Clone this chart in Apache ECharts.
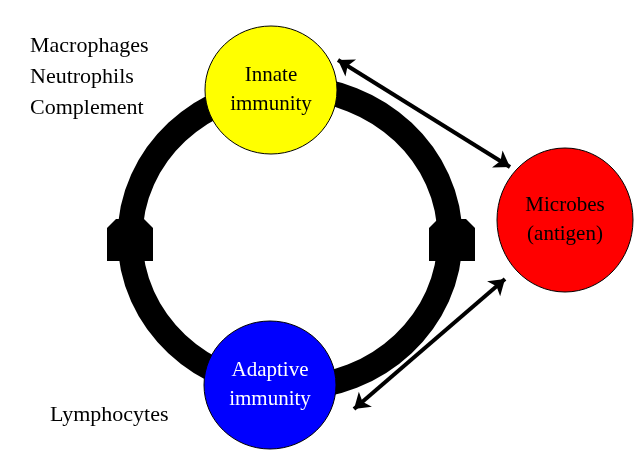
<!DOCTYPE html>
<html>
<head>
<meta charset="utf-8">
<script src="https://cdn.jsdelivr.net/npm/echarts@6/dist/echarts.min.js"></script>
<style>html,body{margin:0;padding:0;background:#fff}#main{width:641px;height:454px}</style>
</head>
<body>
<div id="main"></div>
<script>
// diagram nodes: [x, y, rx, ry, color, label, textColor]
const nodes = [
  [271, 90, 66, 64, '#ffff00', 'Innate\nimmunity', '#000'],
  [270, 385, 66, 64, '#0000ff', 'Adaptive\nimmunity', '#fff'],
  [565, 220, 68, 72, '#ff0000', 'Microbes\n(antigen)', '#000']
];
// ring: [cx, cy, rx, ry]
const ring = [[290, 238, 160, 150]];
// connectors on ring: [x, y]
const bumps = [[130, 240], [452, 240]];
// double arrows: [[x1,y1],[x2,y2]]
const arrows = [
  [[338, 60], [510, 167]],
  [[354, 409], [505, 279]]
];
// side labels: [x, y, text]
const notes = [
  [30, 46, 'Macrophages'],
  [30, 77, 'Neutrophils'],
  [30, 108, 'Complement'],
  [50, 415, 'Lymphocytes']
];

const font = '"Liberation Serif", "DejaVu Serif", serif';
const chart = echarts.init(document.getElementById('main'));

function ell(api, p) {
  const c = api.coord([p[0], p[1]]);
  const e = api.coord([p[0] + p[2], p[1] + p[3]]);
  return { cx: c[0], cy: c[1], rx: Math.abs(e[0] - c[0]), ry: Math.abs(e[1] - c[1]) };
}

chart.setOption({
  animation: false,
  grid: { left: 0, right: 0, top: 0, bottom: 0 },
  xAxis: { type: 'value', min: 0, max: 641, show: false },
  yAxis: { type: 'value', min: 0, max: 454, inverse: true, show: false },
  series: [
    {
      type: 'custom', data: ring, z: 1,
      renderItem: (params, api) => ({
        type: 'ellipse',
        shape: ell(api, [api.value(0), api.value(1), api.value(2), api.value(3)]),
        style: { fill: 'none', stroke: '#000', lineWidth: 25 }
      })
    },
    {
      type: 'custom', data: bumps, z: 2,
      renderItem: (params, api) => {
        const c = api.coord([api.value(0), api.value(1)]);
        const w = 23, h = 21, b = 9;
        return {
          type: 'polygon',
          shape: { points: [
            [c[0] - w + b, c[1] - h], [c[0] + w - b, c[1] - h], [c[0] + w, c[1] - h + b],
            [c[0] + w, c[1] + h], [c[0] - w, c[1] + h], [c[0] - w, c[1] - h + b]
          ] },
          style: { fill: '#000' }
        };
      }
    },
    {
      type: 'lines', coordinateSystem: 'cartesian2d', z: 3,
      symbol: ['arrow', 'arrow'], symbolSize: 15,
      lineStyle: { color: '#000', width: 4, opacity: 1 },
      data: arrows.map(a => ({ coords: a }))
    },
    {
      type: 'custom', data: nodes, z: 4,
      renderItem: (params, api) => {
        const n = nodes[params.dataIndex];
        const s = ell(api, n);
        return {
          type: 'group',
          children: [
            { type: 'ellipse', shape: s, style: { fill: n[4], stroke: '#000', lineWidth: 1 } },
            { type: 'text', x: s.cx, y: s.cy, style: {
              text: n[5], fill: n[6], font: '21px ' + font,
              align: 'center', verticalAlign: 'middle', lineHeight: 29 } }
          ]
        };
      }
    },
    {
      type: 'custom', data: notes, z: 5,
      renderItem: (params, api) => {
        const n = notes[params.dataIndex];
        const c = api.coord([n[0], n[1]]);
        return { type: 'text', x: c[0], y: c[1], style: {
          text: n[2], fill: '#000', font: '22px ' + font, align: 'left', verticalAlign: 'middle' } };
      }
    }
  ]
});
</script>
</body>
</html>
